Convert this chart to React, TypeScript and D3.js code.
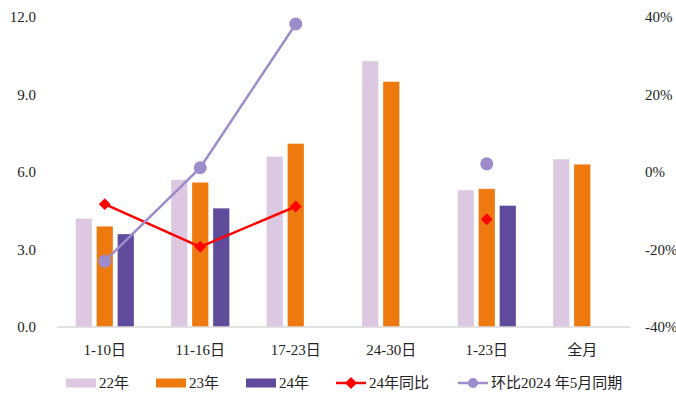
import React from "react";
import * as d3 from "d3";

// Categories (date ranges) and series values
const categories = ["1-10日", "11-16日", "17-23日", "24-30日", "1-23日", "全月"];
const barSeries = ["22年", "23年", "24年"];
const values22: (number | null)[] = [4.2, 5.7, 6.6, 10.3, 5.3, 6.5];
const values23: (number | null)[] = [3.9, 5.6, 7.1, 9.5, 5.35, 6.3];
const values24: (number | null)[] = [3.6, 4.6, null, null, 4.7, null];
// Right axis (percent)
const yoy24: (number | null)[] = [-8.3, -19.3, -8.9, null, -12.2, null];
const momMay2024: (number | null)[] = [-23.0, 1.1, 38.2, null, 2.1, null];

const leftTicks = [0, 3, 6, 9, 12];
const rightTicks = [-40, -20, 0, 20, 40];

const W = 676;
const H = 394;
const plotLeft = 57;
const plotRight = 630;
const plotTop = 17;
const plotBottom = 327;

const barColors = ["#DCC9E1", "#EE7A0F", "#5F4A9B"];
const yoyColor = "#FF0000";
const momColor = "#9D8BCB";
const font = "Liberation Serif, DejaVu Serif, Noto Sans CJK SC, serif";

export default function App() {
  const x = d3.scaleBand<string>().domain(categories).range([plotLeft, plotRight]).padding(0);
  const inner = d3
    .scaleBand<string>()
    .domain(barSeries)
    .range([-29.25, 29.25])
    .paddingInner(0.214)
    .paddingOuter(0);
  const yL = d3.scaleLinear().domain([0, 12]).range([plotBottom, plotTop]);
  const yR = d3.scaleLinear().domain([-40, 40]).range([plotBottom, plotTop]);
  const cx = (c: string) => (x(c) as number) + x.bandwidth() / 2;

  const seriesData = [values22, values23, values24];

  const lineGen = (vals: (number | null)[]) =>
    d3
      .line<number | null>()
      .defined((d) => d !== null)
      .x((_, i) => cx(categories[i]))
      .y((d) => yR(d as number))(vals) || "";

  const diamond = d3.symbol().type(d3.symbolDiamond2).size(90)() || "";

  const legendItems = [
    { kind: "bar", color: barColors[0], label: "22年", x: 66 },
    { kind: "bar", color: barColors[1], label: "23年", x: 156 },
    { kind: "bar", color: barColors[2], label: "24年", x: 246 },
    { kind: "yoy", color: yoyColor, label: "24年同比", x: 336 },
    { kind: "mom", color: momColor, label: "环比2024 年5月同期", x: 458 },
  ];
  const legendY = 383;
  const textStyle = { fontFamily: font, fontSize: "15px", fill: "#222" } as React.CSSProperties;

  return (
    <div style={{ position: "absolute", left: 0, top: 0 }}>
      <svg width={W} height={H} style={{ display: "block", background: "#fff" }}>
        {/* bars */}
        {seriesData.map((vals, si) =>
          vals.map((v, ci) =>
            v === null ? null : (
              <rect
                key={`b${si}-${ci}`}
                x={cx(categories[ci]) + (inner(barSeries[si]) as number)}
                y={yL(v)}
                width={inner.bandwidth()}
                height={yL(0) - yL(v)}
                fill={barColors[si]}
                stroke="#ffffff"
                strokeOpacity={0.5}
                strokeWidth={0.6}
              />
            )
          )
        )}

        {/* baseline */}
        <line x1={plotLeft} x2={plotRight} y1={yL(0)} y2={yL(0)} stroke="#D9D9D9" strokeWidth={1.5} />

        {/* left axis labels */}
        {leftTicks.map((t) => (
          <text key={`l${t}`} x={36} y={yL(t)} dy="0.35em" textAnchor="end" style={textStyle}>
            {t.toFixed(1)}
          </text>
        ))}
        {/* right axis labels */}
        {rightTicks.map((t) => (
          <text key={`r${t}`} x={645} y={yR(t)} dy="0.35em" textAnchor="start" style={textStyle}>
            {`${t}%`}
          </text>
        ))}
        {/* category labels */}
        {categories.map((c) => (
          <text key={c} x={cx(c)} y={350} dy="0.35em" textAnchor="middle" style={textStyle}>
            {c}
          </text>
        ))}

        {/* YoY line with diamonds */}
        <path d={lineGen(yoy24)} fill="none" stroke={yoyColor} strokeWidth={2.5} />
        {yoy24.map((v, i) =>
          v === null ? null : (
            <path key={`d${i}`} d={diamond} transform={`translate(${cx(categories[i])},${yR(v)})`} fill={yoyColor} />
          )
        )}

        {/* month-on-month line with circles */}
        <path d={lineGen(momMay2024)} fill="none" stroke={momColor} strokeWidth={2.5} />
        {momMay2024.map((v, i) =>
          v === null ? null : <circle key={`c${i}`} cx={cx(categories[i])} cy={yR(v)} r={6.5} fill={momColor} />
        )}

        {/* legend */}
        {legendItems.map((it) => (
          <g key={it.label}>
            {it.kind === "bar" ? (
              <rect x={it.x} y={legendY - 4.5} width={30} height={9} fill={it.color} />
            ) : (
              <>
                <line x1={it.x} x2={it.x + 30} y1={legendY} y2={legendY} stroke={it.color} strokeWidth={2.5} />
                {it.kind === "yoy" ? (
                  <path d={diamond} transform={`translate(${it.x + 15},${legendY})`} fill={it.color} />
                ) : (
                  <circle cx={it.x + 15} cy={legendY} r={5} fill={it.color} />
                )}
              </>
            )}
            <text x={it.x + 33} y={legendY} dy="0.35em" style={textStyle}>
              {it.label}
            </text>
          </g>
        ))}
      </svg>
    </div>
  );
}
